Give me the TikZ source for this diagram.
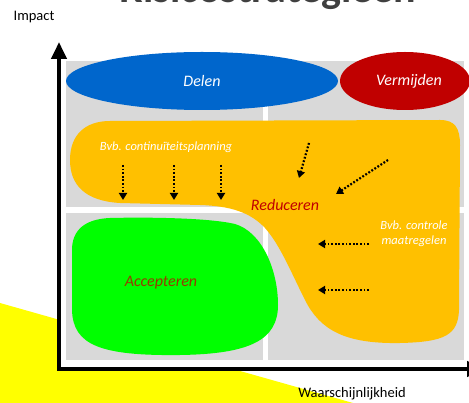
\documentclass[tikz,border=0pt]{standalone}
\usepackage{fontspec}
\setmainfont{Carlito}
\usetikzlibrary{arrows.meta}

\definecolor{quadgrey}{RGB}{217,217,217}
\definecolor{deelblue}{RGB}{0,102,204}
\definecolor{mijdred}{RGB}{192,0,0}
\definecolor{reduorange}{RGB}{255,192,0}
\definecolor{accgreen}{RGB}{0,255,0}
\definecolor{accbrown}{RGB}{150,60,0}
\definecolor{titlegrey}{RGB}{64,64,64}
\definecolor{bgyellow}{RGB}{255,255,0}

\tikzset{
  axis/.style={line width=4pt, -{Triangle[length=17pt,width=15pt]}},
  quadrant/.style={fill=quadgrey, draw=none},
  reduarrow/.style={line width=2.2pt, dash pattern=on 1.8pt off 1.8pt,
    -{Triangle[length=7pt,width=8pt]}},
  whitetext/.style={text=white, font=\itshape\fontsize{12.5}{15}\selectfont, align=center}
}

\begin{document}
\begin{tikzpicture}[x=1pt,y=-1pt]
	\useasboundingbox (0,0) rectangle (469,403);
	\clip (0,0) rectangle (469,403);

	\fill[bgyellow] (0,303) -- (353,403) -- (0,403) -- cycle;
	\fill[white] (58,40) rectangle (469,368);

	\node[anchor=base, text=titlegrey, font=\bfseries\fontsize{42}{44}\selectfont] (title) at (268,3) {Risicostrategieën};

	% kwadranten
	\fill[quadrant] (66,61) rectangle (263,207);
	\fill[quadrant] (268,61) rectangle (464,207);
	\fill[quadrant] (66,213) rectangle (263,360);
	\fill[quadrant] (268,213) rectangle (464,360);

	\fill[deelblue] (202,81) ellipse (136 and 29);
	\fill[mijdred] (405,81) ellipse (65 and 29);

	\fill[reduorange] (110,121) -- (440,120) .. controls (455,120) and (460,128) .. (460,145)
	   -- (459,310) .. controls (458,335) and (445,342) .. (400,343)
	   .. controls (345,344) and (320,330) .. (305,300)
	   .. controls (290,270) and (280,245) .. (265,228)
	   .. controls (250,212) and (230,206) .. (200,205)
	   -- (120,203) .. controls (85,201) and (70,185) .. (70,160)
	   .. controls (70,135) and (85,121) .. (110,121) -- cycle;

	\fill[accgreen] (110,218) .. controls (150,217) and (210,218) .. (235,224)
	   .. controls (262,232) and (278,270) .. (278,305)
	   .. controls (278,340) and (250,354) .. (180,355)
	   .. controls (100,356) and (73,345) .. (72,310)
	   -- (72,250) .. controls (72,230) and (85,219) .. (110,218) -- cycle;

	\node[text=white, font=\itshape\fontsize{16}{18}\selectfont] (delen) at (202,81) {Delen};
	\node[text=white, font=\itshape\fontsize{16}{18}\selectfont] (vermijden) at (409,81) {Vermijden};
	\node[whitetext] (planning) at (166,147) {Bvb. continuïteitsplanning};
	\node[text=mijdred, font=\itshape\fontsize{16}{18}\selectfont] (reduceren) at (285,205) {Reduceren};
	\node[whitetext] (controle) at (414,234) {Bvb. controle\\maatregelen};
	\node[text=accbrown, font=\itshape\fontsize{16}{18}\selectfont] (accepteren) at (161,283) {Accepteren};

	% pijlen naar reduceren
	\foreach \x [count=\i] in {123,174,221} {
	   \coordinate (v\i a) at (\x,165);
	   \coordinate (v\i b) at (\x,200);
	   \draw[reduarrow] (v\i a) -- (v\i b);
	}
	\coordinate (d1a) at (309,143);
	\coordinate (d1b) at (299,178);
	\coordinate (d2a) at (388,160);
	\coordinate (d2b) at (336,194);
	\draw[reduarrow] (d1a) -- (d1b);
	\draw[reduarrow] (d2a) -- (d2b);
	\foreach \y [count=\i] in {244,290} {
	   \coordinate (h\i a) at (369,\y);
	   \coordinate (h\i b) at (318,\y);
	   \draw[reduarrow] (h\i a) -- (h\i b);
	}

	% assen
	\coordinate (origin) at (59,369);
	\coordinate (ytop) at (59,42);
	\coordinate (xend) at (484,369);
	\draw[axis] (origin) -- (ytop);
	\draw[axis] ([xshift=-2pt]origin) -- (xend);

	\node[font=\fontsize{14.5}{16}\selectfont] (impact) at (34,17) {Impact};
	\node[font=\fontsize{14.5}{16}\selectfont] (kans) at (352,394) {Waarschijnlijkheid};
\end{tikzpicture}
\end{document}
